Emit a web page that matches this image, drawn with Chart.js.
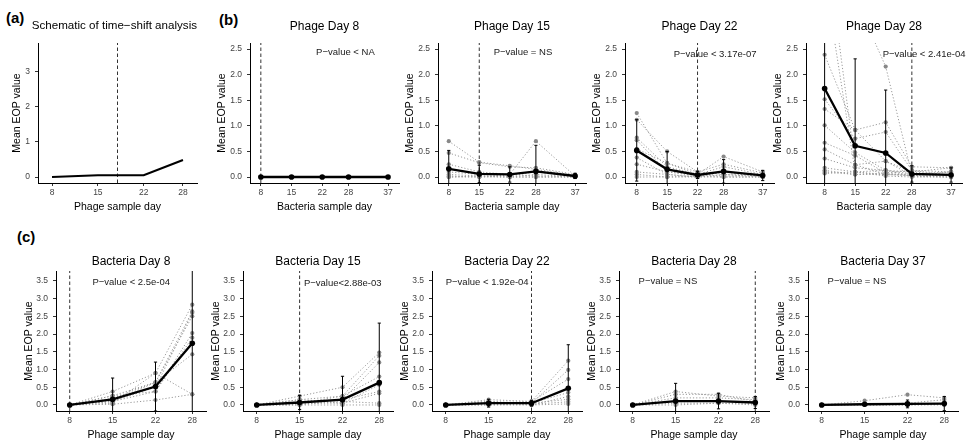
<!DOCTYPE html>
<html>
<head>
<meta charset="utf-8">
<script src="https://cdn.jsdelivr.net/npm/chart.js@4.4.0/dist/chart.umd.min.js"></script>
<style>
  body { margin: 0; background: #fff; }
  #fig { position: relative; width: 966px; height: 445px; overflow: hidden; font-family: "Liberation Sans", Arial, sans-serif; }
  #fig canvas { position: absolute; }
  .tag { position: absolute; font-weight: bold; font-size: 15px; line-height: 15px; color: #000; }
</style>
</head>
<body>
<div id="fig">
  <div class="tag" style="left:6px;top:10px">(a)</div>
  <div class="tag" style="left:219px;top:12px">(b)</div>
  <div class="tag" style="left:17px;top:229px">(c)</div>
</div>
<script>
// x ticks (sample days) and y ticks
const bacteriaDays = [8, 15, 22, 28, 37];
const phageDays = [8, 15, 22, 28];
const yTicksSchematic = [0, 1, 2, 3];
const yTicksPhage = [0, 0.5, 1, 1.5, 2, 2.5];
const yTicksBacteria = [0, 0.5, 1, 1.5, 2, 2.5, 3, 3.5];

// (a) schematic
const schematicLine = [0, 0.05, 0.05, 0.48];
const schematicShift = 18;

// (b) phage day panels, x = bacteria sample day
const pd8Mean = [0, 0, 0, 0, 0];
const pd8Err = [0, 0, 0, 0, 0];
const pd8Reps = [];

const pd15Mean = [0.16, 0.06, 0.05, 0.11, 0.02];
const pd15Err = [0.36, 0.17, 0.15, 0.51, 0.05];
const pd15Reps = [
  [0.70, 0.29, 0.22, 0.15, 0.03],
  [0.47, 0.28, 0.20, 0.18, 0.05],
  [0.25, 0.10, 0.05, 0.70, 0.02],
  [0.10, 0.05, 0.02, 0.10, 0.00],
  [0.05, 0.02, 0.00, 0.05, 0.00],
  [0.02, 0.00, 0.05, 0.02, 0.01],
  [0.00, 0.00, 0.00, 0.00, 0.00],
  [0.00, 0.02, 0.00, 0.00, 0.00]
];

const pd22Mean = [0.52, 0.15, 0.04, 0.11, 0.03];
const pd22Err = [0.60, 0.35, 0.07, 0.23, 0.10];
const pd22Reps = [
  [1.25, 0.27, 0.05, 0.40, 0.10],
  [1.12, 0.50, 0.10, 0.25, 0.08],
  [0.77, 0.20, 0.05, 0.20, 0.05],
  [0.72, 0.10, 0.02, 0.10, 0.02],
  [0.55, 0.27, 0.10, 0.05, 0.05],
  [0.38, 0.05, 0.00, 0.10, 0.00],
  [0.25, 0.10, 0.05, 0.02, 0.03],
  [0.10, 0.05, 0.00, 0.05, 0.00],
  [0.05, 0.00, 0.02, 0.00, 0.00],
  [0.00, 0.00, 0.00, 0.00, 0.00]
];

const pd28Mean = [1.73, 0.61, 0.47, 0.06, 0.04];
const pd28Err = [2.0, 1.70, 1.23, 0.16, 0.14];
const pd28Reps = [
  [4.80, 0.24, 0.05, 0.03, 0.03],
  [3.90, 0.10, 0.13, 0.02, 0.00],
  [3.60, 3.50, 2.16, 0.05, 0.03],
  [2.39, 0.92, 1.07, 0.20, 0.18],
  [1.52, 0.75, 0.88, 0.13, 0.10],
  [1.33, 0.92, 0.31, 0.10, 0.18],
  [1.01, 0.48, 0.13, 0.06, 0.10],
  [0.67, 0.42, 0.08, 0.13, 0.03],
  [0.54, 0.24, 0.31, 0.03, 0.10],
  [0.36, 0.18, 0.13, 0.10, 0.03],
  [0.18, 0.10, 0.05, 0.03, 0.03],
  [0.13, 0.05, 0.08, 0.02, 0.00],
  [0.10, 0.05, 0.05, 0.06, 0.03],
  [0.07, 0.10, 0.02, 0.00, 0.00]
];

// (c) bacteria day panels, x = phage sample day
const bd8Mean = [0, 0.16, 0.52, 1.74];
const bd8Err = [0, 0.60, 0.69, 2.1];
const bd8Reps = [
  [0, 0.38, 0.90, 2.83],
  [0, 0.26, 0.64, 2.64],
  [0, 0.19, 0.64, 2.50],
  [0, 0.10, 0.38, 2.03],
  [0, 0.26, 0.38, 1.90],
  [0, 0.10, 0.64, 1.43],
  [0, 0.05, 0.90, 0.30],
  [0, 0.02, 0.14, 0.30],
  [0, 0.10, 0.50, 2.60]
];

const bd15Mean = [0, 0.07, 0.15, 0.63];
const bd15Err = [0, 0.20, 0.66, 1.68];
const bd15Reps = [
  [0, 0.25, 0.50, 1.48],
  [0, 0.15, 0.25, 1.39],
  [0, 0.08, 0.15, 1.20],
  [0, 0.05, 0.25, 0.80],
  [0, 0.15, 0.05, 0.57],
  [0, 0.00, 0.15, 0.38],
  [0, 0.05, 0.05, 0.33],
  [0, 0.00, 0.00, 0.00],
  [0, 0.02, 0.10, 0.05]
];

const bd22Mean = [0, 0.05, 0.05, 0.47];
const bd22Err = [0, 0.11, 0.08, 1.23];
const bd22Reps = [
  [0, 0.15, 0.10, 1.25],
  [0, 0.10, 0.05, 0.99],
  [0, 0.05, 0.10, 0.73],
  [0, 0.05, 0.05, 0.35],
  [0, 0.10, 0.00, 0.24],
  [0, 0.00, 0.05, 0.16],
  [0, 0.02, 0.02, 0.09],
  [0, 0.00, 0.00, 0.03]
];

const bd28Mean = [0, 0.11, 0.11, 0.07];
const bd28Err = [0, 0.50, 0.22, 0.17];
const bd28Reps = [
  [0, 0.38, 0.25, 0.20],
  [0, 0.30, 0.30, 0.10],
  [0, 0.20, 0.20, 0.15],
  [0, 0.10, 0.10, 0.05],
  [0, 0.05, 0.05, 0.03],
  [0, 0.00, 0.05, 0.00]
];

const bd37Mean = [0, 0.02, 0.03, 0.04];
const bd37Err = [0, 0.03, 0.11, 0.20];
const bd37Reps = [
  [0, 0.12, 0.29, 0.20],
  [0, 0.02, 0.05, 0.15],
  [0, 0.00, 0.00, 0.03],
  [0, 0.00, 0.00, 0.00]
];

const FONT = '"Liberation Sans", Arial, sans-serif';
Chart.defaults.font.family = FONT;

// fixed axis sizes so every plot area lands where the figure has it
const Y_W = 40, X_H = 34, PAD_R = 2;

const panels = [
  { title: 'Schematic of time\u2212shift analysis', xTitle: 'Phage sample day', area: [38, 43, 197, 183],
    xRange: [5.86, 30.14], yRange: [-0.17, 3.8], xTicks: phageDays, yTicks: yTicksSchematic, intLabels: true,
    wideTitle: true, titleSize: 11.6, yGap: 21, titleY: 26, xs: phageDays, line: schematicLine, shift: schematicShift },
  { title: 'Phage Day 8', xTitle: 'Bacteria sample day', area: [250, 43, 401, 183],
    xRange: [5.53, 39.5], yRange: [-0.117, 2.62], xTicks: bacteriaDays, yTicks: yTicksPhage,
    yGap: 28, titleY: 26, xs: bacteriaDays, mean: pd8Mean, err: pd8Err, reps: pd8Reps, shift: 8,
    note: { text: 'P\u2212value < NA', x: 20.6, y: 2.44 } },
  { title: 'Phage Day 15', xTitle: 'Bacteria sample day', area: [438, 43, 589, 183],
    xRange: [5.53, 39.5], yRange: [-0.117, 2.62], xTicks: bacteriaDays, yTicks: yTicksPhage,
    yGap: 28, titleY: 26, xs: bacteriaDays, mean: pd15Mean, err: pd15Err, reps: pd15Reps, shift: 15,
    note: { text: 'P\u2212value = NS', x: 18.3, y: 2.44 } },
  { title: 'Phage Day 22', xTitle: 'Bacteria sample day', area: [625, 43, 777, 183],
    xRange: [5.3, 39.6], yRange: [-0.117, 2.62], xTicks: bacteriaDays, yTicks: yTicksPhage,
    yGap: 28, titleY: 26, xs: bacteriaDays, mean: pd22Mean, err: pd22Err, reps: pd22Reps, shift: 22,
    note: { text: 'P\u2212value < 3.17e-07', x: 16.5, y: 2.40 } },
  { title: 'Phage Day 28', xTitle: 'Bacteria sample day', area: [806, 43, 965, 183],
    xRange: [3.73, 39.5], yRange: [-0.117, 2.62], xTicks: bacteriaDays, yTicks: yTicksPhage,
    yGap: 28, titleY: 26, xs: bacteriaDays, mean: pd28Mean, err: pd28Err, reps: pd28Reps, shift: 28,
    note: { text: 'P\u2212value < 2.41e-04', x: 21.3, y: 2.40 } },
  { title: 'Bacteria Day 8', xTitle: 'Phage sample day', area: [56, 271, 209, 411],
    xRange: [5.76, 30.24], yRange: [-0.17, 3.78], xTicks: phageDays, yTicks: yTicksBacteria,
    yGap: 27, titleY: 261, xs: phageDays, mean: bd8Mean, err: bd8Err, reps: bd8Reps, shift: 8,
    note: { text: 'P\u2212value < 2.5e-04', x: 11.7, y: 3.45 } },
  { title: 'Bacteria Day 15', xTitle: 'Phage sample day', area: [243, 271, 396, 411],
    xRange: [5.76, 30.24], yRange: [-0.17, 3.78], xTicks: phageDays, yTicks: yTicksBacteria,
    yGap: 27, titleY: 261, xs: phageDays, mean: bd15Mean, err: bd15Err, reps: bd15Reps, shift: 15,
    note: { text: 'P\u2212value<2.88e-03', x: 15.7, y: 3.42 } },
  { title: 'Bacteria Day 22', xTitle: 'Phage sample day', area: [432, 271, 585, 411],
    xRange: [5.76, 30.24], yRange: [-0.17, 3.78], xTicks: phageDays, yTicks: yTicksBacteria,
    yGap: 27, titleY: 261, xs: phageDays, mean: bd22Mean, err: bd22Err, reps: bd22Reps, shift: 22,
    note: { text: 'P\u2212value < 1.92e-04', x: 8.0, y: 3.45 } },
  { title: 'Bacteria Day 28', xTitle: 'Phage sample day', area: [619, 271, 772, 411],
    xRange: [5.76, 30.24], yRange: [-0.17, 3.78], xTicks: phageDays, yTicks: yTicksBacteria,
    yGap: 27, titleY: 261, xs: phageDays, mean: bd28Mean, err: bd28Err, reps: bd28Reps, shift: 28,
    note: { text: 'P\u2212value = NS', x: 8.96, y: 3.48 } },
  { title: 'Bacteria Day 37', xTitle: 'Phage sample day', area: [808, 271, 961, 411],
    xRange: [5.76, 30.24], yRange: [-0.17, 3.78], xTicks: phageDays, yTicks: yTicksBacteria,
    yGap: 27, titleY: 261, xs: phageDays, mean: bd37Mean, err: bd37Err, reps: bd37Reps,
    note: { text: 'P\u2212value = NS', x: 8.96, y: 3.48 } }
];

// P-value text, placed in data units
const notePlugin = {
  id: 'note',
  afterDatasetsDraw(chart, args, opts) {
    if (!opts || !opts.text) return;
    const { ctx, scales: { x, y } } = chart;
    ctx.save();
    ctx.font = '9.5px ' + FONT;
    ctx.fillStyle = '#1a1a1a';
    ctx.textAlign = 'left';
    ctx.textBaseline = 'middle';
    ctx.fillText(opts.text, x.getPixelForValue(opts.x), y.getPixelForValue(opts.y));
    ctx.restore();
  }
};

function errorBars(xs, mean, err) {
  const pts = [];
  xs.forEach((x, i) => {
    if (!err[i]) return;
    pts.push({ x: x, y: mean[i] - err[i] }, { x: x, y: mean[i] + err[i] }, { x: x, y: null });
  });
  return pts;
}

function buildDatasets(p) {
  const sets = [];
  if (p.line) {
    sets.push({ data: p.xs.map((x, i) => ({ x: x, y: p.line[i] })), borderColor: '#000', borderWidth: 2.2,
      pointRadius: 0, order: 0, clip: 0 });
  }
  if (p.mean) {
    sets.push({ data: p.xs.map((x, i) => ({ x: x, y: p.mean[i] })), borderColor: '#000', borderWidth: 2.3,
      pointRadius: 2.8, pointBackgroundColor: '#000', pointBorderWidth: 0, order: 0, clip: 0 });
    sets.push({ data: errorBars(p.xs, p.mean, p.err), borderColor: '#000', borderWidth: 1, spanGaps: false,
      pointStyle: 'line', pointRadius: 1.6, pointBorderColor: '#000', pointBorderWidth: 1, order: 1, clip: 0 });
  }
  if (p.shift !== undefined) {
    sets.push({ data: [{ x: p.shift, y: p.yRange[0] }, { x: p.shift, y: p.yRange[1] }], borderColor: '#333',
      borderWidth: 1, borderDash: [3.5, 2.5], pointRadius: 0, order: 2, clip: 0 });
  }
  (p.reps || []).forEach(rep => {
    sets.push({ data: p.xs.map((x, i) => ({ x: x, y: rep[i] })), borderColor: '#999', borderWidth: 1,
      borderDash: [1.2, 2], pointRadius: 2.1, pointBackgroundColor: '#888', pointBorderWidth: 0,
      order: 3, clip: 0 });
  });
  return sets;
}

const fig = document.getElementById('fig');

panels.forEach(p => {
  const [L, T, R, B] = p.area;
  const titleBox = T - p.titleY > 12 ? 26 : 19;     // title block height above plot
  const titleSize = p.titleSize || 12;
  const titlePadBottom = titleBox - 2 - titleSize * 1.2;
  const canvas = document.createElement('canvas');
  const left = L - Y_W, top = T - titleBox;
  const w = R - L + Y_W + PAD_R, h = B - T + titleBox + X_H;
  canvas.width = w; canvas.height = h;
  canvas.style.left = left + 'px'; canvas.style.top = top + 'px';
  canvas.style.width = w + 'px'; canvas.style.height = h + 'px';
  fig.appendChild(canvas);

  new Chart(canvas, {
    type: 'line',
    data: { datasets: buildDatasets(p) },
    options: {
      responsive: false,
      animation: false,
      layout: { padding: { left: 0, top: 0, right: PAD_R, bottom: 0 } },
      elements: { line: { tension: 0 } },
      plugins: {
        legend: { display: false },
        tooltip: { enabled: false },
        // the long schematic title runs past the plot, so it spans the whole canvas, right aligned
        title: { display: true, text: p.title, fullSize: !!p.wideTitle, align: p.wideTitle ? 'end' : 'center',
          color: '#000', font: { size: titleSize, weight: 'normal' }, padding: { top: 2, bottom: titlePadBottom } },
        note: p.note || {}
      },
      scales: {
        x: {
          type: 'linear', min: p.xRange[0], max: p.xRange[1],
          afterBuildTicks: s => { s.ticks = p.xTicks.map(v => ({ value: v })); },
          afterFit: s => { s.height = X_H; },
          grid: { drawOnChartArea: false, drawTicks: true, tickLength: 3, color: '#333' },
          border: { display: true, color: '#000', width: 1 },
          ticks: { font: { size: 8.5 }, color: '#444', padding: 2, maxRotation: 0, autoSkip: false,
            callback: v => String(v) },
          title: { display: true, text: p.xTitle, color: '#000', font: { size: 10.5 },
            padding: { top: 0, bottom: 3.2 } }
        },
        y: {
          type: 'linear', min: p.yRange[0], max: p.yRange[1],
          afterBuildTicks: s => { s.ticks = p.yTicks.map(v => ({ value: v })); },
          afterFit: s => { s.width = Y_W; },
          grid: { drawOnChartArea: false, drawTicks: true, tickLength: 3, color: '#333' },
          border: { display: true, color: '#000', width: 1 },
          ticks: { font: { size: 8.5 }, color: '#444', padding: 5, autoSkip: false,
            callback: v => p.intLabels ? String(v) : v.toFixed(1) },
          title: { display: true, text: 'Mean EOP value', color: '#000', font: { size: 10.5 },
            padding: { top: Y_W - p.yGap - 6.3, bottom: 0 } }
        }
      }
    },
    plugins: [notePlugin]
  });
});
</script>
</body>
</html>
